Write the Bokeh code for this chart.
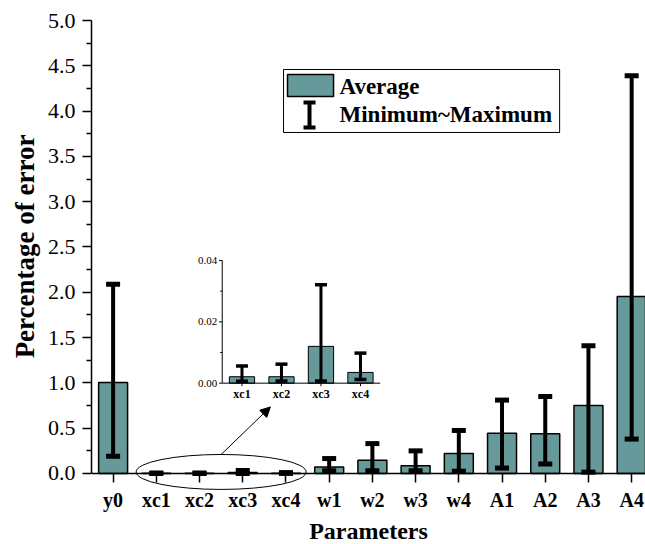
import numpy as np
from bokeh.plotting import figure
from bokeh.models import (Range1d, FixedTicker, NumeralTickFormatter, LinearAxis, ColumnDataSource,
                          Arrow, NormalHead, BoxAnnotation, Label, Whisker, TeeHead, Title)
from bokeh.core.properties import value
from bokeh.embed import file_html
from bokeh.resources import INLINE

# ---------------- data ----------------
categories = ["y0", "xc1", "xc2", "xc3", "xc4", "w1", "w2", "w3", "w4", "A1", "A2", "A3", "A4"]
average = [1.005, 0.0021, 0.0021, 0.0120, 0.0035, 0.072, 0.145, 0.086, 0.22, 0.445, 0.44, 0.75, 1.955]
minimum = [0.19, 0.0006, 0.0007, 0.0007, 0.0012, 0.03, 0.03, 0.03, 0.025, 0.06, 0.105, 0.015, 0.38]
maximum = [2.09, 0.0056, 0.0062, 0.0321, 0.0098, 0.165, 0.33, 0.25, 0.475, 0.81, 0.85, 1.41, 4.39]
y_ticks = [0.0, 0.5, 1.0, 1.5, 2.0, 2.5, 3.0, 3.5, 4.0, 4.5, 5.0]
inset_ticks = [0.0, 0.02, 0.04]
inset_minor_ticks = [0.01, 0.03]
legend_labels = ["Average", "Minimum~Maximum"]
x_title = "Parameters"
y_title = "Percentage of error"

TEAL = "#669999"
FONT = "Liberation Serif"

positions = list(range(len(categories)))
src = ColumnDataSource(dict(x=positions, avg=average, lo=minimum, hi=maximum))

# frame spans the full lower part of the canvas; the x axis is pinned at y = 0
p = figure(width=645, height=544, x_range=Range1d(-0.5, 12.32), y_range=Range1d(-0.7837, 5),
           output_backend="svg", toolbar_location=None, x_axis_type=None, y_axis_type=None,
           min_border_left=91, min_border_top=20, min_border_right=0, min_border_bottom=0)
p.outline_line_color = None
p.background_fill_color = "white"
p.border_fill_color = "white"

# ---------------- axes ----------------
yaxis = LinearAxis(ticker=FixedTicker(ticks=y_ticks, minor_ticks=list(np.arange(0.25, 5.0, 0.5))),
                   formatter=NumeralTickFormatter(format="0.0"), bounds=(0, 5))
xaxis = LinearAxis(ticker=FixedTicker(ticks=positions, minor_ticks=[]),
                   major_label_overrides={i: c for i, c in enumerate(categories)},
                   axis_label=x_title, fixed_location=0)
for ax in (yaxis, xaxis):
    ax.axis_line_width = 1.5
    ax.axis_line_color = "black"
    ax.major_tick_line_width = 1.5
    ax.major_tick_line_color = "black"
    ax.minor_tick_line_width = 1.5
    ax.minor_tick_line_color = "black"
    ax.major_tick_out = 9
    ax.major_tick_in = 0
    ax.minor_tick_out = 5
    ax.minor_tick_in = 0
    ax.major_label_text_font = FONT
    ax.major_label_text_color = "black"
    ax.axis_label_text_font = FONT
    ax.axis_label_text_font_style = "bold"
    ax.axis_label_text_color = "black"
    ax.major_label_standoff = 7
yaxis.major_label_text_font_size = "22px"
xaxis.major_label_text_font_size = "20px"
xaxis.major_label_text_font_style = "bold"
xaxis.axis_label_text_font_size = "24px"
xaxis.axis_label_standoff = 3
p.add_layout(yaxis, "left")
p.add_layout(xaxis, "below")

# y title, aligned to the top end so that it sits centred on the 0-5 axis
p.add_layout(Title(text=y_title, align="right", offset=114, text_font=FONT, text_font_style="bold",
                   text_font_size="27px", text_color="black", standoff=10), "left")

# ---------------- main bars + error bars ----------------
p.vbar(x="x", top="avg", width=0.67, fill_color=TEAL, line_color="black", line_width=1.5, source=src)
p.segment(x0="x", y0="lo", x1="x", y1="hi", line_width=4, line_color="black", source=src)
p.scatter(x="x", y="lo", marker="dash", size=14, line_width=5, line_color="black", source=src)
p.scatter(x="x", y="hi", marker="dash", size=14, line_width=5, line_color="black", source=src)

# ---------------- ellipse + arrow ----------------
cx = float(np.mean(positions[1:5]))
p.ellipse(x=cx, y=0.017, width=3.934, height=0.386, fill_alpha=0, line_color="black", line_width=1)
p.add_layout(Arrow(end=NormalHead(size=10, fill_color="black", line_color="black"),
                   x_start=cx, y_start=0.21, x_end=3.64, y_end=0.735,
                   line_color="black", line_width=1))

# ---------------- inset ----------------
sub = p.subplot(x_source=Range1d(-0.5, 3.5), y_source=Range1d(0, 0.04),
                x_target=Range1d(2.525, 6.181), y_target=Range1d(0.997, 2.351))
isrc = ColumnDataSource(dict(x=list(range(4)), avg=average[1:5], lo=minimum[1:5], hi=maximum[1:5],
                             label=categories[1:5]))
sub.vbar(x="x", top="avg", width=0.64, fill_color=TEAL, line_color="black", line_width=1, source=isrc)
sub.segment(x0="x", y0="lo", x1="x", y1="hi", line_width=3, line_color="black", source=isrc)
sub.scatter(x="x", y="lo", marker="dash", size=12, line_width=3.5, line_color="black", source=isrc)
sub.scatter(x="x", y="hi", marker="dash", size=12, line_width=3.5, line_color="black", source=isrc)
# inset axes
sub.segment(x0=[-0.5, -0.5], y0=[0, 0], x1=[-0.5, 3.5], y1=[0.04, 0], line_color="black", line_width=1)
sub.segment(x0=-0.5, x1=-0.58, y0=inset_ticks, y1=inset_ticks, line_color="black", line_width=1)
sub.segment(x0=-0.5, x1=-0.55, y0=inset_minor_ticks, y1=inset_minor_ticks, line_color="black", line_width=1)
sub.segment(x0="x", x1="x", y0=0, y1=-0.001, line_color="black", line_width=1, source=isrc)
sub.text(x=-0.5, y=inset_ticks, text=[f"{v:.2f}" for v in inset_ticks], x_offset=-5,
         text_align="right", text_baseline="middle", text_font=value(FONT),
         text_font_size="11px", text_color="black")
sub.text(x="x", y=0, text="label", y_offset=11, text_align="center", text_baseline="middle",
         text_font=value(FONT), text_font_style="bold", text_font_size="12px", text_color="black",
         source=isrc)

# ---------------- legend (drawn) ----------------
p.add_layout(BoxAnnotation(left=3.944, right=10.333, top=4.459, bottom=3.764,
                           fill_color="white", fill_alpha=1, line_color="black", line_alpha=1, line_width=1))
p.add_layout(BoxAnnotation(left=4.036, right=5.101, top=4.404, bottom=4.161,
                           fill_color=TEAL, fill_alpha=1, line_color="black", line_alpha=1, line_width=1.5))
wsrc = ColumnDataSource(dict(base=[4.545], lower=[3.819], upper=[4.095]))
p.add_layout(Whisker(source=wsrc, base="base", lower="lower", upper="upper", dimension="height",
                     line_width=4, line_color="black", level="overlay",
                     upper_head=TeeHead(size=12, line_width=4, line_color="black"),
                     lower_head=TeeHead(size=12, line_width=4, line_color="black")))
for txt, yy in zip(legend_labels, [4.27, 3.96]):
    p.add_layout(Label(x=5.239, y=yy, text=txt, text_font=FONT, text_font_style="bold",
                       text_font_size="23px", text_baseline="middle", text_align="left",
                       text_color="black"))

open("out.html", "w").write(file_html(p, INLINE))
